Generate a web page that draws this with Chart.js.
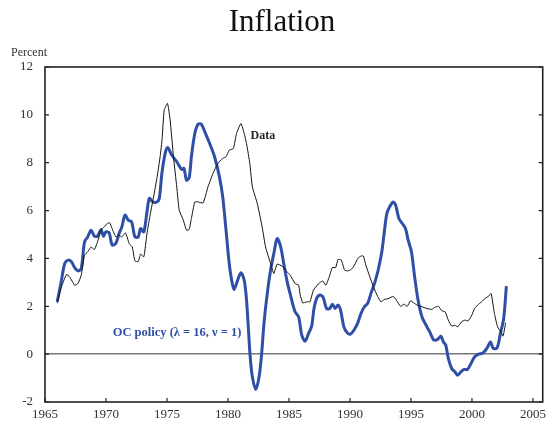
<!DOCTYPE html>
<html>
<head>
<meta charset="utf-8">
<script src="https://cdn.jsdelivr.net/npm/chart.js@4.4.1/dist/chart.umd.min.js"></script>
<style>
  html, body { margin: 0; padding: 0; background: #fff; }
  #wrap { width: 551px; height: 426px; position: relative; }
</style>
</head>
<body>
<div id="wrap"><canvas id="inflationChart"></canvas></div>
<script>
// Dados (trimestral aproximado)
const dataYears = [1966.0, 1966.35, 1966.76, 1967.02, 1967.43, 1967.7, 1967.97, 1968.24, 1968.5, 1968.78,
  1969.05, 1969.3, 1969.6, 1969.86, 1970.1, 1970.3, 1970.5, 1970.8, 1971.07, 1971.3,
  1971.6, 1971.9, 1972.15, 1972.37, 1972.64, 1972.83, 1973.1, 1973.36, 1973.64, 1973.9,
  1974.17, 1974.45, 1974.6, 1974.77, 1975.04, 1975.26, 1975.53, 1975.8, 1976.0, 1976.34,
  1976.6, 1976.82, 1977.0, 1977.28, 1977.55, 1977.96, 1978.36, 1978.77, 1979.17, 1979.57,
  1979.84, 1980.1, 1980.44, 1980.7, 1981.06, 1981.33, 1981.52, 1981.79, 1982.0, 1982.4,
  1982.8, 1983.08, 1983.49, 1983.76, 1984.03, 1984.43, 1984.84, 1985.1, 1985.5, 1985.79,
  1985.92, 1986.13, 1986.46, 1986.72, 1987.0, 1987.4, 1987.75, 1988.02, 1988.3, 1988.56,
  1988.83, 1989.02, 1989.29, 1989.56, 1989.83, 1990.1, 1990.37, 1990.64, 1990.9, 1991.1,
  1991.3, 1991.58, 1991.9, 1992.26, 1992.53, 1992.8, 1993.2, 1993.53, 1993.8, 1994.15,
  1994.42, 1994.69, 1994.96, 1995.23, 1995.5, 1995.9, 1996.31, 1996.71, 1996.93, 1997.25,
  1997.53, 1997.8, 1998.06, 1998.34, 1998.6, 1998.82, 1999.15, 1999.41, 1999.68, 1999.95,
  2000.22, 2000.55, 2000.8, 2001.08, 2001.36, 2001.57, 2001.84, 2002.1, 2002.38, 2002.55,
  2002.76];
const dataValues = [2.14, 2.81, 3.33, 3.23, 2.88, 2.95, 3.30, 4.14, 4.28, 4.48,
  4.37, 4.69, 5.18, 5.32, 5.46, 5.49, 5.25, 4.90, 4.97, 4.90,
  5.07, 4.62, 4.48, 3.90, 3.86, 4.18, 4.07, 5.04, 5.88, 6.57,
  7.34, 8.3, 9.0, 10.2, 10.48, 9.78, 8.25, 6.99, 6.02, 5.60,
  5.18, 5.21, 5.67, 6.36, 6.36, 6.32, 6.99, 7.55, 7.97, 8.18,
  8.25, 8.52, 8.59, 9.22, 9.64, 9.22, 8.80, 7.97, 6.99, 6.30,
  5.32, 4.48, 3.79, 3.37, 3.76, 3.68, 3.44, 3.30, 2.95, 2.88,
  2.47, 2.14, 2.19, 2.19, 2.67, 2.93, 3.06, 2.88, 3.23, 3.62,
  3.62, 3.96, 3.93, 3.51, 3.48, 3.54, 3.72, 4.00, 4.10, 4.10,
  3.72, 3.30, 2.84, 2.42, 2.19, 2.28, 2.33, 2.42, 2.26, 2.00,
  2.09, 2.00, 2.23, 2.14, 2.05, 1.98, 1.91, 1.87, 1.95, 2.00,
  1.81, 1.77, 1.42, 1.17, 1.21, 1.14, 1.35, 1.42, 1.39, 1.59,
  1.91, 2.09, 2.19, 2.33, 2.42, 2.54, 1.70, 1.14, 0.93, 0.75,
  1.31];

const ocYears = [1966.0, 1966.35, 1966.62, 1966.9, 1967.16, 1967.43, 1967.7, 1967.97, 1968.24, 1968.5,
  1968.78, 1969.05, 1969.3, 1969.6, 1969.78, 1970.0, 1970.26, 1970.5, 1970.8, 1971.07,
  1971.3, 1971.56, 1971.83, 1972.1, 1972.37, 1972.64, 1972.83, 1973.1, 1973.36, 1973.56,
  1973.83, 1974.17, 1974.37, 1974.58, 1974.85, 1975.05, 1975.39, 1975.8, 1976.2, 1976.39,
  1976.6, 1976.82, 1977.0, 1977.28, 1977.55, 1977.82, 1978.1, 1978.5, 1978.9, 1979.3,
  1979.57, 1979.84, 1980.1, 1980.3, 1980.5, 1980.79, 1981.06, 1981.33, 1981.52, 1981.68,
  1981.82, 1982.0, 1982.27, 1982.55, 1982.76, 1982.95, 1983.22, 1983.49, 1983.76, 1984.03,
  1984.3, 1984.57, 1984.84, 1985.16, 1985.5, 1985.79, 1986.05, 1986.32, 1986.6, 1986.86,
  1987.05, 1987.27, 1987.53, 1987.8, 1988.08, 1988.34, 1988.56, 1988.78, 1989.02, 1989.23,
  1989.5, 1989.78, 1990.04, 1990.32, 1990.64, 1990.9, 1991.18, 1991.45, 1991.72, 1992.05,
  1992.34, 1992.61, 1992.8, 1993.02, 1993.26, 1993.53, 1993.74, 1994.01, 1994.29, 1994.55,
  1994.77, 1995.04, 1995.3, 1995.58, 1995.9, 1996.31, 1996.58, 1996.84, 1997.17, 1997.45,
  1997.66, 1997.85, 1998.06, 1998.34, 1998.6, 1998.82, 1999.09, 1999.36, 1999.63, 1999.95,
  2000.22, 2000.55, 2000.9, 2001.22, 2001.52, 2001.74, 2002.06, 2002.33, 2002.6, 2002.82];
const ocValues = [2.19, 3.09, 3.79, 3.93, 3.86, 3.62, 3.48, 3.58, 4.69, 4.90,
  5.18, 4.93, 4.93, 5.21, 4.93, 5.11, 5.07, 4.56, 4.62, 5.04,
  5.32, 5.81, 5.60, 5.53, 4.90, 4.90, 5.25, 5.11, 5.95, 6.51,
  6.36, 6.36, 6.51, 7.55, 8.39, 8.64, 8.32, 8.04, 7.72, 7.76,
  7.27, 7.38, 8.25, 9.22, 9.61, 9.61, 9.29, 8.80, 8.25, 7.41,
  6.57, 5.18, 3.79, 3.09, 2.70, 3.09, 3.40, 3.09, 2.26, 1.00,
  -0.11, -0.95, -1.48, -0.95, 0.03, 1.28, 2.54, 3.51, 4.21, 4.83,
  4.52, 3.79, 3.05, 2.39, 1.77, 1.56, 0.79, 0.54, 0.86, 1.17,
  1.91, 2.33, 2.47, 2.37, 1.91, 1.91, 2.09, 1.91, 2.05, 1.84,
  1.14, 0.89, 0.84, 1.00, 1.31, 1.70, 1.98, 2.12, 2.54, 3.02,
  3.58, 4.28, 5.04, 5.88, 6.16, 6.36, 6.23, 5.67, 5.46, 5.25,
  4.76, 4.28, 3.23, 2.26, 1.56, 1.14, 0.89, 0.61, 0.61, 0.75,
  0.51, 0.38, -0.18, -0.60, -0.74, -0.88, -0.74, -0.64, -0.64, -0.36,
  -0.11, 0.00, 0.05, 0.24, 0.51, 0.24, 0.26, 0.86, 1.49, 2.84];

const xTicks = [1965, 1970, 1975, 1980, 1985, 1990, 1995, 2000, 2005];
const yTicks = [-2, 0, 2, 4, 6, 8, 10, 12];

const serif = '"Liberation Serif", "Times New Roman", serif';
const blue = '#2f4fa6';

function toPoints(xs, ys) {
  return xs.map((x, i) => ({ x: x, y: ys[i] }));
}

// Moldura, ticks para dentro e textos
const decorPlugin = {
  id: 'decor',
  afterDraw(chart) {
    const ctx = chart.ctx;
    const a = chart.chartArea;
    const xs = chart.scales.x;
    const ys = chart.scales.y;
    ctx.save();
    ctx.strokeStyle = '#222';
    ctx.lineWidth = 1.6;
    ctx.strokeRect(a.left, a.top, a.right - a.left, a.bottom - a.top);
    ctx.lineWidth = 1.2;
    ctx.beginPath();
    yTicks.forEach(v => {
      const py = ys.getPixelForValue(v);
      ctx.moveTo(a.left, py); ctx.lineTo(a.left + 4, py);
      ctx.moveTo(a.right, py); ctx.lineTo(a.right - 4, py);
    });
    xTicks.forEach(v => {
      const px = xs.getPixelForValue(v);
      ctx.moveTo(px, a.bottom); ctx.lineTo(px, a.bottom - 4);
    });
    ctx.stroke();

    ctx.fillStyle = '#111';
    ctx.textAlign = 'center';
    ctx.textBaseline = 'middle';
    ctx.font = '31px ' + serif;
    ctx.fillText('Inflation', 282, 23);

    ctx.font = '12px ' + serif;
    ctx.textAlign = 'left';
    ctx.fillStyle = '#333';
    ctx.fillText('Percent', 11, 53);

    ctx.font = 'bold 12px ' + serif;
    ctx.fillStyle = '#222';
    ctx.fillText('Data', xs.getPixelForValue(1981.85), ys.getPixelForValue(9.1));

    ctx.font = 'bold 12.5px ' + serif;
    ctx.fillStyle = blue;
    ctx.fillText('OC policy (\u03bb = 16, \u03bd = 1)', xs.getPixelForValue(1970.55), ys.getPixelForValue(0.88));
    ctx.restore();
  }
};

new Chart(document.getElementById('inflationChart'), {
  type: 'line',
  data: {
    datasets: [
      {
        label: 'Data',
        data: toPoints(dataYears, dataValues),
        borderColor: '#111',
        borderWidth: 1,
        pointRadius: 0,
        tension: 0.15,
        fill: false
      },
      {
        label: 'OC policy',
        data: toPoints(ocYears, ocValues),
        borderColor: blue,
        borderWidth: 3,
        pointRadius: 0,
        tension: 0.3,
        fill: false
      }
    ]
  },
  options: {
    responsive: true,
    maintainAspectRatio: false,
    animation: false,
    layout: { padding: { top: 67, right: 2, left: 0, bottom: 0 } },
    plugins: {
      legend: { display: false },
      tooltip: { enabled: false }
    },
    scales: {
      x: {
        type: 'linear',
        min: 1965,
        max: 2005.8,
        afterBuildTicks: scale => {
          scale.ticks = xTicks.map(v => ({ value: v }));
        },
        afterFit: scale => { scale.height = 24; },
        ticks: {
          color: '#333',
          font: { family: serif, size: 13 },
          padding: 5,
          maxRotation: 0,
          callback: v => String(v)
        },
        grid: { display: false, drawTicks: false },
        border: { display: false }
      },
      y: {
        min: -2,
        max: 12,
        afterBuildTicks: scale => {
          scale.ticks = yTicks.map(v => ({ value: v }));
        },
        afterFit: scale => { scale.width = 45; },
        ticks: {
          color: '#333',
          font: { family: serif, size: 13 },
          padding: 12
        },
        grid: {
          drawTicks: false,
          lineWidth: 1.5,
          color: ctx => (ctx.tick && ctx.tick.value === 0) ? '#777' : 'rgba(0,0,0,0)'
        },
        border: { display: false }
      }
    }
  },
  plugins: [decorPlugin]
});
</script>
</body>
</html>
